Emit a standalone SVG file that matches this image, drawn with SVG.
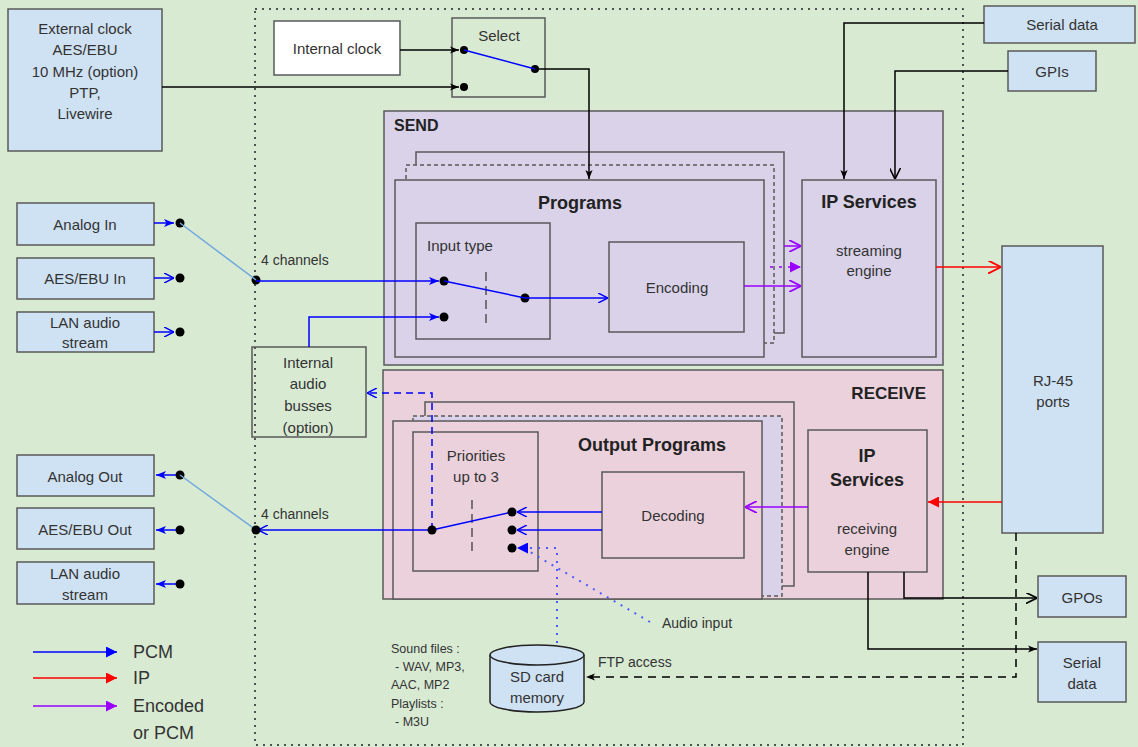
<svg xmlns="http://www.w3.org/2000/svg" width="1138" height="747" viewBox="0 0 1138 747">
<defs>
<style>
text{font-family:"Liberation Sans",Arial,sans-serif;fill:#333;font-size:15px;text-anchor:middle;dominant-baseline:central}
.b{font-weight:bold;fill:#222}
.lb{fill:#cfe2f3;stroke:#595959;stroke-width:1.5}
.box{stroke:#595959;stroke-width:1.5}
.k{fill:none;stroke:#000;stroke-width:1.5}
.bl{fill:none;stroke:#0000ff;stroke-width:1.5}
.lbl{fill:none;stroke:#6fa8dc;stroke-width:1.5}
.pu{fill:none;stroke:#9900ff;stroke-width:1.5}
.rd{fill:none;stroke:#ff0000;stroke-width:1.5}
.dot{fill:#000}
</style>
<marker id="mk" viewBox="0 0 10 10" refX="10" refY="5" markerWidth="9" markerHeight="9" markerUnits="userSpaceOnUse" orient="auto"><path d="M0,1 L10,5 L0,9 L2.5,5 z" fill="#000"/></marker>
<marker id="mko" viewBox="0 0 10 10" refX="10" refY="5" markerWidth="11" markerHeight="11" markerUnits="userSpaceOnUse" orient="auto"><path d="M0,0 L10,5 L0,10" fill="none" stroke="#000" stroke-width="1.5"/></marker>
<marker id="mb" viewBox="0 0 10 10" refX="10" refY="5" markerWidth="10" markerHeight="10" markerUnits="userSpaceOnUse" orient="auto"><path d="M0,1 L10,5 L0,9 L2.5,5 z" fill="#0000ff"/></marker>
<marker id="mbo" viewBox="0 0 10 10" refX="10" refY="5" markerWidth="10" markerHeight="10" markerUnits="userSpaceOnUse" orient="auto"><path d="M0,0 L10,5 L0,10" fill="none" stroke="#0000ff" stroke-width="1.5"/></marker>
<marker id="mp" viewBox="0 0 10 10" refX="10" refY="5" markerWidth="12" markerHeight="12" markerUnits="userSpaceOnUse" orient="auto"><path d="M0,0 L10,5 L0,10" fill="none" stroke="#9900ff" stroke-width="1.5"/></marker>
<marker id="mr" viewBox="0 0 10 10" refX="10" refY="5" markerWidth="13" markerHeight="13" markerUnits="userSpaceOnUse" orient="auto"><path d="M0,0 L10,5 L0,10" fill="none" stroke="#ff0000" stroke-width="1.5"/></marker>
<marker id="mbf" viewBox="0 0 10 10" refX="10" refY="5" markerWidth="11" markerHeight="11" markerUnits="userSpaceOnUse" orient="auto"><path d="M0,0 L10,5 L0,10 z" fill="#0000ff"/></marker>
<marker id="mrf" viewBox="0 0 10 10" refX="10" refY="5" markerWidth="11" markerHeight="11" markerUnits="userSpaceOnUse" orient="auto"><path d="M0,0 L10,5 L0,10 z" fill="#ff0000"/></marker>
<marker id="mpf" viewBox="0 0 10 10" refX="10" refY="5" markerWidth="11" markerHeight="11" markerUnits="userSpaceOnUse" orient="auto"><path d="M0,0 L10,5 L0,10 z" fill="#9900ff"/></marker>
</defs>
<rect width="1138" height="747" fill="#d9ead3"/>
<path d="M255,9 H963 V745 H255 Z" fill="none" stroke="#222" stroke-width="1.5" stroke-dasharray="2 5"/>

<g id="ext-clock"><rect class="lb" x="8" y="9" width="154" height="142"/>
<text x="85" y="28">External clock</text><text x="85" y="49">AES/EBU</text><text x="85" y="71">10 MHz (option)</text><text x="85" y="92">PTP,</text><text x="85" y="113">Livewire</text></g>
<g id="internal-clock"><rect class="box" fill="#fff" x="274" y="21" width="126" height="54"/><text x="337" y="48">Internal clock</text></g>
<g id="select"><rect class="box" fill="none" x="452" y="18" width="93" height="79"/><text x="499" y="35">Select</text>
<circle class="dot" cx="464" cy="50" r="4"/><circle class="dot" cx="464" cy="87" r="4"/><circle class="dot" cx="535" cy="69" r="4"/></g>
<g id="serial-in"><rect class="lb" x="984" y="6" width="151" height="37"/><text x="1062" y="24">Serial data</text></g>
<g id="gpis"><rect class="lb" x="1008" y="51" width="88" height="40"/><text x="1052" y="71">GPIs</text></g>

<g id="send"><rect class="box" fill="#d9d2e9" x="384" y="111" width="559" height="254"/>
<text class="b" x="394" y="125" style="text-anchor:start;font-size:16px">SEND</text></g>
<g id="programs">
<rect class="box" fill="#d9d2e9" x="416" y="152" width="368" height="181"/>
<rect class="box" fill="#d9d2e9" stroke-dasharray="4 3" x="406" y="165" width="368" height="178"/>
<rect class="box" fill="#d9d2e9" x="395" y="180" width="369" height="177"/>
<text class="b" x="580" y="203" style="font-size:18px">Programs</text></g>
<g id="input-type"><rect class="box" fill="none" x="416" y="223" width="134" height="116"/>
<text x="427" y="245" style="text-anchor:start">Input type</text>
<path d="M486,272 V327" stroke="#333" stroke-width="1.2" stroke-dasharray="9 5" fill="none"/>
<circle class="dot" cx="444" cy="281" r="4.5"/><circle class="dot" cx="444" cy="317" r="4.5"/><circle class="dot" cx="525" cy="298" r="4.5"/></g>
<g id="encoding"><rect class="box" fill="none" x="609" y="242" width="135" height="90"/><text x="677" y="287">Encoding</text></g>
<g id="ip-send"><rect class="box" fill="none" x="802" y="180" width="134" height="177"/>
<text class="b" x="869" y="202" style="font-size:18px">IP Services</text><text x="869" y="250">streaming</text><text x="869" y="270">engine</text></g>
<g id="rj45"><rect class="lb" x="1002" y="246" width="101" height="287"/><text x="1053" y="380">RJ-45</text><text x="1053" y="401">ports</text></g>

<g id="analog-in"><rect class="lb" x="17" y="203" width="137" height="42"/><text x="85" y="224">Analog In</text></g>
<g id="aes-in"><rect class="lb" x="17" y="258" width="137" height="41"/><text x="85" y="278">AES/EBU In</text></g>
<g id="lan-in"><rect class="lb" x="17" y="312" width="137" height="40"/><text x="85" y="322">LAN audio</text><text x="85" y="342">stream</text></g>
<g id="in-dots"><circle class="dot" cx="180" cy="223" r="4.5"/><circle class="dot" cx="180" cy="278" r="4.5"/><circle class="dot" cx="180" cy="332" r="4.5"/><circle class="dot" cx="256" cy="280" r="4.5"/>
<text x="261" y="260" style="text-anchor:start;font-size:14px">4 channels</text></g>
<g id="busses"><rect class="box" fill="none" x="252" y="347" width="114" height="90"/>
<text x="308" y="362">Internal</text><text x="308" y="383">audio</text><text x="308" y="405">busses</text><text x="308" y="427">(option)</text></g>

<g id="receive"><rect class="box" fill="#ead1dc" x="383" y="370" width="560" height="229"/>
<text class="b" x="926" y="393" style="text-anchor:end;font-size:17px">RECEIVE</text></g>
<g id="output-programs">
<rect class="box" fill="#ead1dc" x="425" y="402" width="369" height="184"/>
<rect class="box" fill="#d9d2e9" stroke-dasharray="4 3" x="413" y="416" width="369" height="180"/>
<rect class="box" fill="#ead1dc" x="393" y="421" width="369" height="178"/>
<text class="b" x="652" y="445" style="font-size:18px">Output Programs</text></g>
<g id="priorities"><rect class="box" fill="none" x="413" y="432" width="125" height="139"/>
<text x="476" y="455">Priorities</text><text x="476" y="476">up to 3</text>
<path d="M472,500 V556" stroke="#333" stroke-width="1.2" stroke-dasharray="9 5" fill="none"/></g>
<g id="decoding"><rect class="box" fill="none" x="602" y="472" width="142" height="86"/><text x="673" y="515">Decoding</text></g>
<g id="ip-receive"><rect class="box" fill="none" x="808" y="430" width="119" height="142"/>
<text class="b" x="867" y="456" style="font-size:18px">IP</text><text class="b" x="867" y="480" style="font-size:18px">Services</text>
<text x="867" y="528">receiving</text><text x="867" y="549">engine</text></g>

<g id="analog-out"><rect class="lb" x="17" y="455" width="137" height="41"/><text x="85" y="476">Analog Out</text></g>
<g id="aes-out"><rect class="lb" x="17" y="508" width="137" height="41"/><text x="85" y="529">AES/EBU Out</text></g>
<g id="lan-out"><rect class="lb" x="17" y="562" width="137" height="42"/><text x="85" y="573">LAN audio</text><text x="85" y="594">stream</text></g>
<g id="out-dots"><circle class="dot" cx="180" cy="475" r="4.5"/><circle class="dot" cx="180" cy="530" r="4.5"/><circle class="dot" cx="180" cy="584" r="4.5"/>
<text x="261" y="514" style="text-anchor:start;font-size:14px">4 channels</text></g>

<g id="gpos"><rect class="lb" x="1038" y="576" width="88" height="41"/><text x="1082" y="597">GPOs</text></g>
<g id="serial-out"><rect class="lb" x="1038" y="642" width="88" height="60"/><text x="1082" y="662">Serial</text><text x="1082" y="683">data</text></g>

<g id="sd-card"><path d="M490,655 V702 A47,10 0 0 0 584,702 V655" fill="#cfe2f3" stroke="#222" stroke-width="1.5"/>
<ellipse cx="537" cy="655" rx="47" ry="10" fill="#cfe2f3" stroke="#222" stroke-width="1.5"/>
<text x="537" y="676">SD card</text><text x="537" y="697">memory</text></g>
<g id="sd-notes">
<text x="391" y="649" style="text-anchor:start;font-size:12.5px">Sound files :</text>
<text x="395" y="667" style="text-anchor:start;font-size:12.5px">- WAV, MP3,</text>
<text x="391" y="685" style="text-anchor:start;font-size:12.5px">AAC, MP2</text>
<text x="391" y="704" style="text-anchor:start;font-size:12.5px">Playlists :</text>
<text x="395" y="722" style="text-anchor:start;font-size:12.5px">- M3U</text>
<text x="598" y="662" style="text-anchor:start;font-size:14px">FTP access</text>
<text x="662" y="623" style="text-anchor:start;font-size:14px">Audio input</text></g>

<g id="connectors">
<path class="k" d="M162,87 H459" marker-end="url(#mk)"/>
<path class="k" d="M400,50 H459" marker-end="url(#mk)"/>
<path class="bl" d="M464,50 L535,69"/>
<path class="k" d="M535,69 H589 V179" marker-end="url(#mk)"/>
<path class="k" d="M984,23 H844 V179" marker-end="url(#mk)"/>
<path class="k" d="M1008,71 H895 V179" marker-end="url(#mko)"/>
<path class="bl" d="M154,223 H174" marker-end="url(#mb)"/>
<path class="bl" d="M154,278 H174" marker-end="url(#mbo)"/>
<path class="bl" d="M154,332 H174" marker-end="url(#mbo)"/>
<path class="lbl" d="M180,223 L256,280"/>
<path class="bl" d="M256,281 H439" marker-end="url(#mb)"/>
<path class="bl" d="M309,347 V317 H439" marker-end="url(#mb)"/>
<path class="bl" d="M444,281 L525,298"/>
<path class="bl" d="M525,298 H608" marker-end="url(#mbo)"/>
<path class="pu" d="M744,286 H801" marker-end="url(#mp)"/>
<path class="pu" d="M784,246 H801" marker-end="url(#mp)"/>
<path class="pu" d="M770,267 H801" stroke-dasharray="3 6" marker-end="url(#mpf)"/>
<path class="rd" d="M936,267 H1001" marker-end="url(#mr)"/>
<path class="rd" d="M1002,502 H928" marker-end="url(#mrf)"/>
<path class="pu" d="M808,507 H745" marker-end="url(#mp)"/>
<path class="bl" d="M602,512 H517" marker-end="url(#mbo)"/>
<path class="bl" d="M602,530 H517" marker-end="url(#mbo)"/>
<path class="bl" d="M432,530 L512,512"/>
<path class="bl" d="M432,530 H258" marker-end="url(#mbo)"/>
<path class="bl" d="M432,530 V393 H367" stroke-dasharray="7 5" marker-end="url(#mbo)"/>
<path class="lbl" d="M180,475 L256,530"/>
<path class="bl" d="M176,475 H156" marker-end="url(#mb)"/>
<path class="bl" d="M176,530 H156" marker-end="url(#mb)"/>
<path class="bl" d="M176,584 H156" marker-end="url(#mb)"/>
<path d="M557,643 V548 H517" fill="none" stroke="#4a5cff" stroke-width="2" stroke-dasharray="2 6" marker-end="url(#mbf)"/>
<path d="M650,622 L530,552" fill="none" stroke="#4a5cff" stroke-width="2" stroke-dasharray="2 6"/>
<path class="k" d="M1016,533 V677 H586" stroke-dasharray="8 6" marker-end="url(#mk)"/>
<path class="k" d="M904,572 V598 H1037" marker-end="url(#mko)"/>
<path class="k" d="M868,572 V649 H1037" marker-end="url(#mk)"/>
<circle class="dot" cx="432" cy="530" r="4.5"/><circle class="dot" cx="512" cy="512" r="4.5"/><circle class="dot" cx="512" cy="530" r="4.5"/><circle class="dot" cx="512" cy="548" r="4.5"/><circle class="dot" cx="256" cy="530" r="4.5"/>
</g>

<g id="legend">
<path class="bl" d="M33,652 H117" marker-end="url(#mbf)"/>
<path class="rd" d="M33,678 H117" marker-end="url(#mrf)"/>
<path class="pu" d="M33,706 H117" marker-end="url(#mpf)"/>
<text x="133" y="652" style="text-anchor:start;font-size:18px">PCM</text>
<text x="133" y="678" style="text-anchor:start;font-size:18px">IP</text>
<text x="133" y="706" style="text-anchor:start;font-size:18px">Encoded</text>
<text x="133" y="733" style="text-anchor:start;font-size:18px">or PCM</text>
</g>
</svg>
